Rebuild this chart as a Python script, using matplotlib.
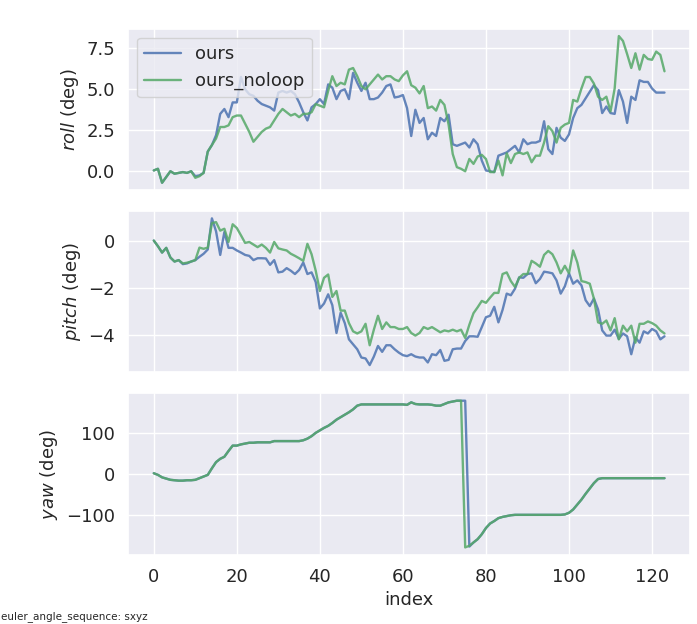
import numpy as np
import matplotlib
matplotlib.use('Agg')
import matplotlib.pyplot as plt
import seaborn as sns

sns.set_theme(style='darkgrid')
plt.rcParams['font.family'] = ['DejaVu Sans']

# 数据: 三个欧拉角 (roll / pitch / yaw), 两条轨迹
roll_ours = [
    0.05, 0.15, -0.7, -0.35, 0.0, -0.15, -0.1, -0.05, -0.1, 0.0,
    -0.3, -0.25, -0.1, 1.2, 1.6, 2.2, 3.5, 3.8, 3.3, 4.2,
    4.2, 5.75, 5.0, 4.7, 4.6, 4.3, 4.1, 4.0, 3.9, 3.7,
    4.8, 4.9, 4.8, 4.9, 4.7, 4.2, 3.6, 3.1, 3.9, 4.1,
    4.4, 4.1, 5.3, 5.1, 4.4, 4.9, 5.0, 4.4, 6.0, 5.4,
    4.9, 5.4, 4.4, 4.4, 4.5, 4.8, 5.2, 5.3, 4.5, 4.55,
    4.65, 3.85, 2.15, 3.75, 2.95, 3.25, 1.95, 2.35, 2.15, 3.25,
    3.05, 3.45, 1.65, 1.55, 1.65, 1.75, 1.45, 1.95, 1.65, 0.65,
    0.05, 0.0, -0.05, 0.95, 1.05, 1.15, 1.35, 1.55, 1.15, 1.95,
    1.65, 1.75, 1.75, 1.85, 3.05, 1.35, 1.05, 2.65, 2.05, 1.85,
    2.25, 3.25, 3.85, 4.05, 4.45, 4.85, 5.25, 4.95, 3.55, 3.95,
    3.55, 3.5, 4.95, 4.25, 2.95, 4.55, 4.35, 5.55, 5.45, 5.45,
    5.05, 4.8, 4.8, 4.8,
]
roll_noloop = [
    0.05, 0.15, -0.7, -0.35, 0.0, -0.15, -0.1, -0.05, -0.1, 0.0,
    -0.4, -0.3, -0.1, 1.2, 1.6, 2.0, 2.7, 2.7, 2.8, 3.3,
    3.4, 3.4, 2.9, 2.4, 1.8, 2.1, 2.4, 2.6, 2.7, 3.1,
    3.5, 3.8, 3.6, 3.4, 3.5, 3.3, 3.5, 3.5, 3.6, 4.1,
    4.0, 3.9, 4.9, 5.8, 5.2, 5.4, 5.3, 6.2, 6.3, 5.8,
    5.2, 5.0, 5.3, 5.6, 5.9, 5.6, 5.8, 5.8, 5.6, 5.5,
    5.85, 6.1, 5.25, 5.1, 4.75, 5.2, 3.85, 3.95, 3.7, 4.35,
    4.05, 2.85, 1.05, 0.25, 0.15, 0.0, 0.75, 0.45, 0.9, 1.0,
    0.75, -0.05, -0.05, 0.65, -0.25, 1.1, 0.5, 1.05, 1.15, 1.05,
    1.15, 0.55, 0.95, 0.95, 1.75, 2.75, 2.45, 1.75, 2.65, 2.85,
    2.95, 4.35, 4.25, 5.05, 5.75, 5.75, 5.35, 4.55, 4.35, 4.55,
    3.65, 5.05, 8.25, 7.95, 7.15, 6.3, 7.2, 6.2, 7.1, 6.85,
    6.8, 7.3, 7.1, 6.1,
]
pitch_ours = [
    0.0, -0.24, -0.51, -0.31, -0.72, -0.89, -0.83, -1.0, -0.97, -0.89,
    -0.83, -0.69, -0.56, -0.38, 0.94, 0.39, -0.61, 0.36, -0.31, -0.31,
    -0.42, -0.51, -0.61, -0.65, -0.83, -0.75, -0.75, -0.76, -1.03, -0.83,
    -1.35, -1.32, -1.17, -1.28, -1.42, -1.25, -0.93, -1.42, -1.35, -1.76,
    -2.88, -2.67, -2.28, -2.74, -3.92, -3.06, -3.5, -4.19, -4.4, -4.61,
    -4.96, -5.0, -5.28, -4.92, -4.47, -4.72, -4.44, -4.44, -4.61, -4.75,
    -4.86, -4.9, -4.82, -4.92, -4.96, -4.96, -5.17, -4.82, -4.86, -4.64,
    -5.1, -5.06, -4.61, -4.58, -4.58, -4.26, -4.06, -4.06, -4.08, -3.67,
    -3.25, -3.19, -2.81, -3.47, -2.94, -2.25, -2.32, -2.04, -1.56, -1.58,
    -1.42, -1.39, -1.81, -1.63, -1.32, -1.35, -1.39, -1.69, -2.25, -1.94,
    -1.39, -1.83, -1.69, -1.9, -2.53, -2.78, -2.46, -2.92, -3.81, -4.03,
    -4.03, -3.78, -4.17, -3.94, -4.06, -4.82, -4.11, -4.33, -3.85, -3.94,
    -3.75, -3.85, -4.19, -4.06,
]
pitch_noloop = [
    0.0, -0.24, -0.51, -0.31, -0.72, -0.89, -0.83, -0.97, -0.94, -0.89,
    -0.83, -0.3, -0.35, -0.3, 0.74, 0.78, 0.42, 0.5, -0.06, 0.69,
    0.53, 0.22, -0.1, -0.06, -0.17, -0.28, -0.17, -0.31, -0.51, -0.06,
    -0.33, -0.38, -0.42, -0.56, -0.65, -0.75, -0.86, -0.14, -0.58, -1.28,
    -2.14, -1.58, -1.44, -2.39, -2.14, -2.97, -2.97, -3.5, -3.85, -3.94,
    -3.85, -3.53, -4.44, -3.78, -3.19, -3.75, -3.47, -3.67, -3.67, -3.75,
    -3.75, -3.67, -3.92, -4.03, -3.92, -3.67, -3.75, -3.67, -3.78, -3.89,
    -3.81, -3.85, -3.78, -3.85, -3.78, -4.13, -3.57, -3.08, -2.83, -2.56,
    -2.64, -2.42, -2.22, -2.22, -1.42, -1.35, -1.72, -1.97, -1.58, -1.42,
    -1.42, -0.86, -0.97, -1.11, -0.61, -0.44, -0.58, -0.93, -1.39, -1.07,
    -1.39, -0.42, -0.93, -1.72, -1.76, -1.83, -2.46, -3.47, -3.53, -3.39,
    -3.81, -3.29, -4.19, -3.61, -3.85, -3.61, -4.33, -3.53, -3.53, -3.43,
    -3.5, -3.61, -3.81, -3.94,
]
yaw_ours = [
    2, -2, -8, -11, -14, -15, -16, -16, -15, -15,
    -14, -10, -6, -2, 14, 29, 37, 42, 56, 69,
    69, 72, 74, 76, 76, 77, 77, 77, 77, 80,
    80, 80, 80, 80, 80, 80, 82, 86, 92, 100,
    106, 112, 117, 124, 132, 138, 144, 150, 157, 166,
    169, 169, 169, 169, 169, 169, 169, 169, 169, 169,
    169, 168, 174, 170, 169, 169, 169, 168, 166, 166,
    170, 174, 176, 178, 178, 178, -176, -166, -158, -146,
    -131, -120, -114, -107, -104, -102, -100, -99, -99, -99,
    -99, -99, -99, -99, -99, -99, -99, -99, -99, -98,
    -94, -86, -74, -62, -48, -35, -22, -12, -10, -10,
    -10, -10, -10, -10, -10, -10, -10, -10, -10, -10,
    -10, -10, -10, -10,
]
yaw_noloop = yaw_ours[:75] + [-178, -174] + yaw_ours[77:]

index = np.arange(len(roll_ours))
LABELS = ['ours', 'ours_noloop']
COLORS = ['#4C72B0', '#55A868']
PANELS = [
    (roll_ours, roll_noloop, r'$roll$ (deg)', [0.0, 2.5, 5.0, 7.5]),
    (pitch_ours, pitch_noloop, r'$pitch$ (deg)', [-4, -2, 0]),
    (yaw_ours, yaw_noloop, r'$yaw$ (deg)', [-100, 0, 100]),
]

fig, axes = plt.subplots(3, 1, figsize=(6.97, 6.24), dpi=100, sharex=True)
fig.subplots_adjust(left=0.184, right=0.990, top=0.954, bottom=0.111, hspace=0.13)

for ax, (a, b, ylabel, yticks) in zip(axes, PANELS):
    ax.plot(index, a, color=COLORS[0], lw=1.7, alpha=0.85, label=LABELS[0])
    ax.plot(index, b, color=COLORS[1], lw=1.7, alpha=0.85, label=LABELS[1])
    ax.set_ylabel(ylabel, fontsize=13)
    ax.set_yticks(yticks)
    ax.tick_params(labelsize=13)

axes[0].legend(loc='upper left', fontsize=13)
axes[-1].set_xlabel('index', fontsize=13)
axes[-1].set_xticks([0, 20, 40, 60, 80, 100, 120])

fig.text(0.002, 0.004, 'euler_angle_sequence: sxyz', fontsize=7.5, ha='left', va='bottom')

fig.savefig('out.png')
plt.close(fig)
